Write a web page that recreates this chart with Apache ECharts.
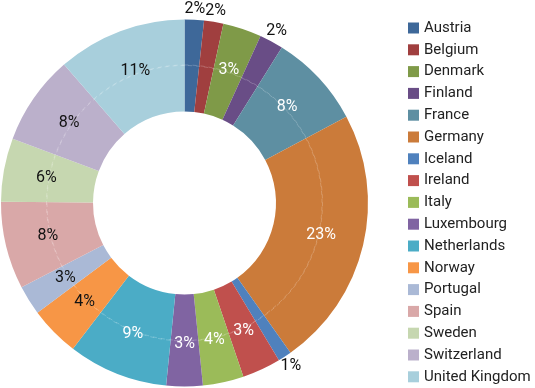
<!DOCTYPE html>
<html>
<head>
<meta charset="utf-8">
<script src="https://cdn.jsdelivr.net/npm/echarts@6/dist/echarts.min.js"></script>
<style>html,body{margin:0;padding:0;background:#fff;}#c{width:535px;height:388px;}</style>
</head>
<body>
<div id="c"></div>
<script>
const countries = ['Austria','Belgium','Denmark','Finland','France','Germany','Iceland','Ireland','Italy','Luxembourg','Netherlands','Norway','Portugal','Spain','Sweden','Switzerland','United Kingdom'];
const shares = [1.7, 1.7, 3.4, 2.1, 8.3, 23.0, 1.2, 3.4, 3.6, 3.2, 8.8, 4.4, 2.6, 7.7, 5.6, 7.9, 11.4];

const palette = ['#3e6899','#a03f3f','#7f9a48','#694d86','#5e8fa2','#cb7b3a','#4f81bd','#c0504d','#9bbb59','#8064a2','#4bacc6','#f79646','#aab9d6','#d9a8a8','#c6d7b0','#bbb0cb','#a8cfdc'];
const whiteLabel = new Set(['Denmark','France','Germany','Ireland','Italy','Luxembourg','Netherlands']);
const outsideLabel = new Set(['Austria','Belgium','Finland','Iceland']);

const total = shares.reduce((a,b)=>a+b,0);
const fmt = p => Math.round(p.value / total * 100) + '%';
const font = 'Roboto, "Noto Sans", sans-serif';

const mainData = countries.map((n,i)=>({
  name:n, value:shares[i],
  label:{show:!outsideLabel.has(n), color: whiteLabel.has(n)?'#ffffff':'#111111'}
}));
const outerData = countries.map((n,i)=>({
  name:n, value:shares[i],
  itemStyle:{color:'rgba(0,0,0,0)'},
  label:{show:outsideLabel.has(n)}
}));

const chart = echarts.init(document.getElementById('c'), null, {renderer:'canvas'});
chart.setOption({
  animation:false,
  color: palette,
  legend:{
    data: countries,
    orient:'vertical',
    left:403, top:15.5, height:380,
    icon:'rect', itemWidth:11, itemHeight:11,
    itemGap:6.8,
    textStyle:{fontFamily:font, fontSize:15, color:'#222'},
    selectedMode:false
  },
  series:[
    {
      type:'pie', silent:true, name:'ring',
      center:[184.5,203], radius:[137.5,138],
      startAngle:90, z:1,
      label:{show:false}, labelLine:{show:false},
      itemStyle:{color:'none', borderColor:'rgba(255,255,255,0.22)', borderWidth:1, borderType:[4,4]},
      data:[{name:'', value:1}]
    },
    {
      type:'pie', name:'main', silent:true,
      center:[184.5,203], radius:[91.5,183.5],
      startAngle:90, clockwise:true, z:0,
      avoidLabelOverlap:false,
      label:{position:'inside', formatter:fmt, fontFamily:font, fontSize:16, fontWeight:'normal', textBorderWidth:0, textBorderColor:'transparent', textShadowBlur:0},
      labelLine:{show:false},
      itemStyle:{borderWidth:0},
      data: mainData
    },
    {
      type:'pie', name:'outer', silent:true,
      center:[184.5,203], radius:[183.5,200],
      startAngle:90, clockwise:true,
      avoidLabelOverlap:false,
      label:{position:'inside', formatter:fmt, fontFamily:font, fontSize:16, fontWeight:'normal', color:'#111111', textBorderWidth:0, textBorderColor:'transparent'},
      labelLine:{show:false},
      data: outerData
    }
  ]
});
</script>
</body>
</html>
